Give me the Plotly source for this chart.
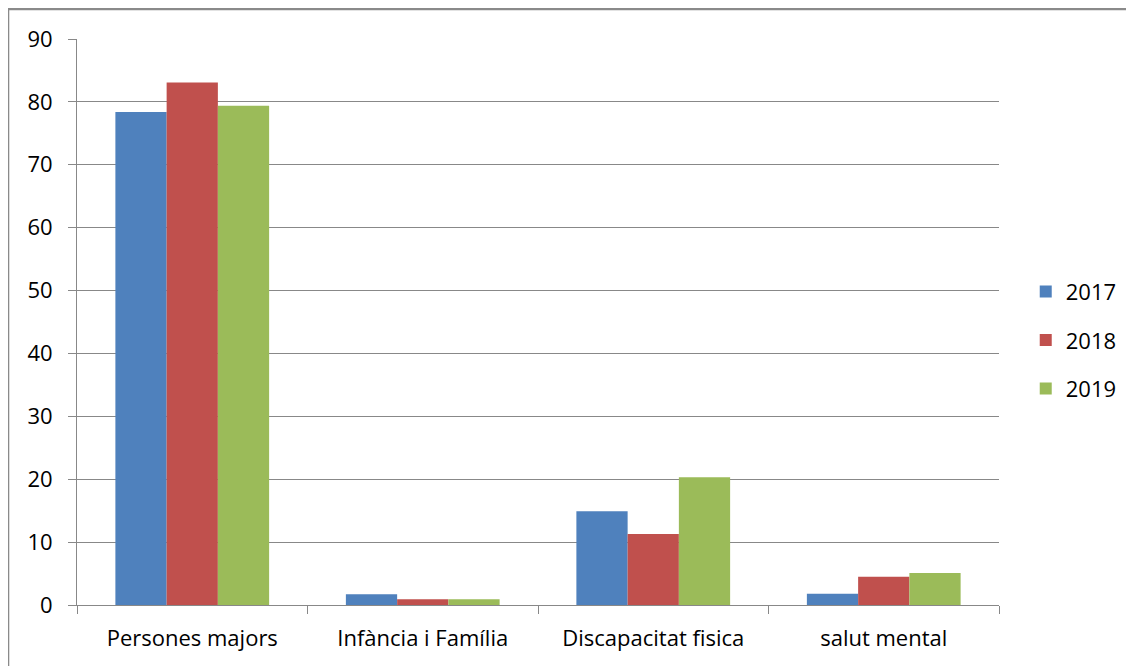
import plotly.graph_objects as go

categories = ["Persones majors", "Infància i Família", "Discapacitat fisica", "salut mental"]
years = ["2017", "2018", "2019"]
values_2017 = [78.4, 1.7, 14.9, 1.8]
values_2018 = [83.1, 0.9, 11.3, 4.5]
values_2019 = [79.4, 0.9, 20.3, 5.1]
colors = ["#4F81BD", "#C0504D", "#9BBB59"]

font = dict(family="Open Sans", size=22, color="#000000")

fig = go.Figure()
for year, vals, color in zip(years, [values_2017, values_2018, values_2019], colors):
    fig.add_trace(go.Bar(x=categories, y=vals, name=year, legendgroup=year,
                         marker=dict(color=color, line=dict(width=0))))

# chart frame (Excel style border), right and bottom edges off-screen
fig.add_shape(type="rect", xref="paper", yref="paper",
              x0=-0.0748, y0=-0.3, x1=1.3, y1=1.053,
              line=dict(color="#8a8a8a", width=2.5), layer="below")

fig.update_layout(
    width=1134, height=666,
    margin=dict(l=69, r=143, t=31, b=69),
    paper_bgcolor="white", plot_bgcolor="white",
    barmode="group", bargap=0.333, bargroupgap=0,
    font=font,
    showlegend=True,
    legend=dict(x=1.029, y=0.468, xanchor="left", yanchor="middle",
                traceorder="grouped", tracegroupgap=17,
                font=dict(family="Open Sans", size=22), itemwidth=30),
)

fig.update_yaxes(range=[0, 90], dtick=10, showgrid=True, gridcolor="#888888", gridwidth=1,
                 showline=True, linecolor="#888888", linewidth=1,
                 ticks="outside", ticklen=8, tickcolor="#888888",
                 ticklabelstandoff=11, zeroline=False)
fig.update_xaxes(showline=True, linecolor="#888888", linewidth=1,
                 ticks="outside", ticklen=8, tickcolor="#888888", tickson="boundaries",
                 ticklabelstandoff=14, showgrid=False)

fig.write_html("out.html")
